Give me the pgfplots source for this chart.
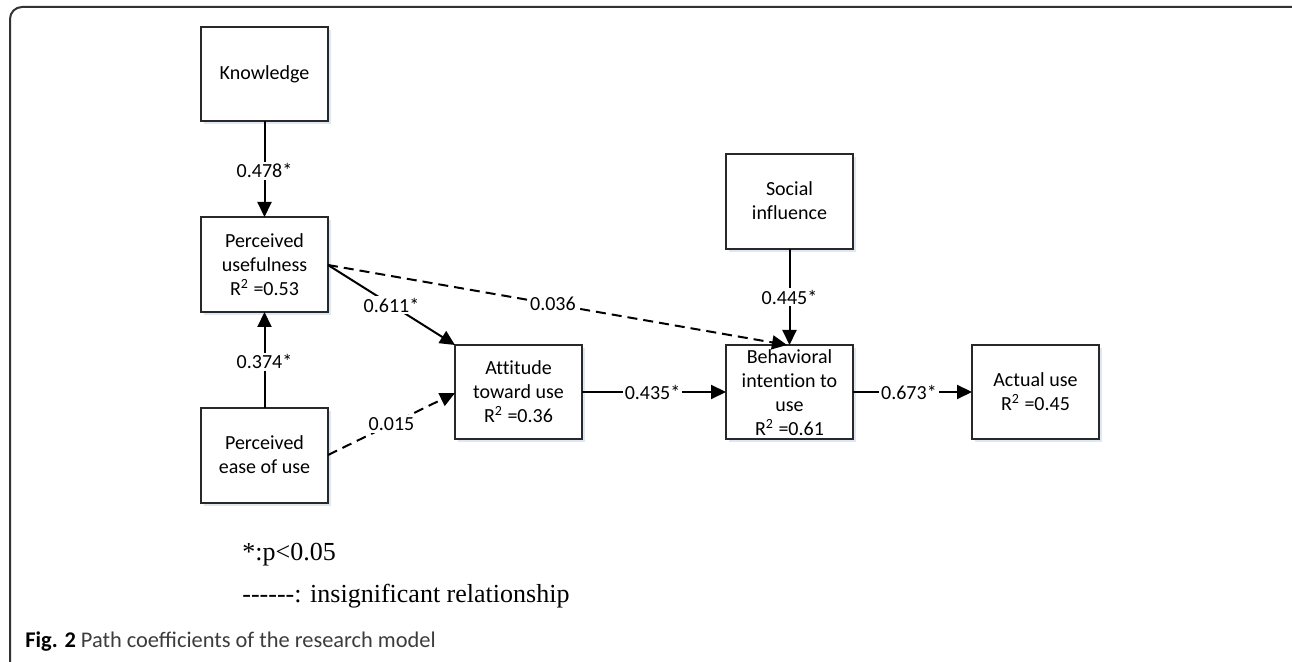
\documentclass[border=0pt]{standalone}
\usepackage{pgfplots}
\pgfplotsset{compat=1.18}
\usetikzlibrary{arrows.meta}
\usepackage{fontspec}
\setmainfont{Carlito}[Ligatures={NoCommon}]
\newfontfamily\capfont{Carlito}
\newfontfamily\serif[Ligatures=TeXOff]{Liberation Serif}
\definecolor{shadowblue}{RGB}{222,232,244}
\definecolor{capgray}{RGB}{60,60,60}
\definecolor{boxline}{RGB}{40,40,40}
\tikzset{
  lbl/.style={fill=white, inner sep=1pt, font=\fontsize{10}{12}\selectfont},
  txt/.style={align=center, font=\fontsize{10}{12}\selectfont},
  arr/.style={line width=1pt, black, -{Triangle[length=7.5pt,width=7pt]}},
  dsh/.style={arr, dash pattern=on 5pt off 3pt},
  shd/.style={fill=shadowblue, shift={(1.5pt,-1.5pt)}},
  bx/.style={fill=white, draw=boxline, line width=1pt},
}
\begin{document}
\begin{tikzpicture}
\begin{axis}[scale only axis, width=646pt, height=331pt,
  xmin=0, xmax=1292, ymin=0, ymax=662, y dir=reverse,
  axis lines=none, clip=true]
% outer frame
\draw[black!80, line width=1pt, rounded corners=6pt] (axis cs:10,7) rectangle (axis cs:1320,700);
% box shadows
\fill[shd] (axis cs:201,27) rectangle (axis cs:328,121);
\fill[shd] (axis cs:201,217) rectangle (axis cs:328,312);
\fill[shd] (axis cs:201,408) rectangle (axis cs:328,503);
\fill[shd] (axis cs:455,345) rectangle (axis cs:582,439);
\fill[shd] (axis cs:726,154) rectangle (axis cs:853,249);
\fill[shd] (axis cs:726,345) rectangle (axis cs:853,439);
\fill[shd] (axis cs:972,345) rectangle (axis cs:1099,439);
% boxes
\draw[bx] (axis cs:201,27) rectangle (axis cs:328,121);
\draw[bx] (axis cs:201,217) rectangle (axis cs:328,312);
\draw[bx] (axis cs:201,408) rectangle (axis cs:328,503);
\draw[bx] (axis cs:455,345) rectangle (axis cs:582,439);
\draw[bx] (axis cs:726,154) rectangle (axis cs:853,249);
\draw[bx] (axis cs:726,345) rectangle (axis cs:853,439);
\draw[bx] (axis cs:972,345) rectangle (axis cs:1099,439);
% box texts
\node[txt] at (axis cs:264.5,74) {Knowledge};
\node[txt] at (axis cs:264.5,265) {Perceived\\usefulness\\R\textsuperscript{2} =0.53};
\node[txt] at (axis cs:264.5,455) {Perceived\\ease of use};
\node[txt] at (axis cs:518.5,392) {Attitude\\toward use\\R\textsuperscript{2} =0.36};
\node[txt] at (axis cs:789.5,201) {Social\\influence};
\node[txt] at (axis cs:789.5,393) {Behavioral\\intention to\\use\\R\textsuperscript{2} =0.61};
\node[txt] at (axis cs:1035.5,392) {Actual use\\R\textsuperscript{2} =0.45};
% paths (coefficients)
\addplot[arr] coordinates {(264.5,121) (264.5,217)} node[lbl, pos=0.52] {0.478*};
\addplot[arr] coordinates {(264.5,408) (264.5,312)} node[lbl, pos=0.48] {0.374*};
\addplot[arr] coordinates {(328,265) (455,345)} node[lbl, pos=0.5] {0.611*};
\addplot[dsh] coordinates {(328,455) (455,393)} node[lbl, pos=0.5] {0.015};
\addplot[dsh] coordinates {(328,265) (787,345)} node[lbl, pos=0.49] {0.036};
\addplot[arr] coordinates {(789.5,249) (789.5,345)} node[lbl, pos=0.5] {0.445*};
\addplot[arr] coordinates {(582,392) (726,392)} node[lbl, pos=0.49] {0.435*};
\addplot[arr] coordinates {(853,392) (972,392)} node[lbl, pos=0.47] {0.673*};
% legend
\node[anchor=base west, inner sep=0pt, font=\serif\fontsize{13}{15}\selectfont] at (axis cs:242,561) {*:p<0.05};
\node[anchor=base west, inner sep=0pt, font=\serif\fontsize{13}{15}\selectfont] at (axis cs:242,603) {------: insignificant relationship};
% caption
\node[anchor=base west, inner sep=0pt, font=\capfont\fontsize{11.2}{13}\selectfont, text=capgray] at (axis cs:25,648) {\textbf{\color{black}Fig. 2} Path coefficients of the research model};
\end{axis}
\pgfresetboundingbox
\useasboundingbox (0,0) rectangle (646pt,331pt);
\end{tikzpicture}
\end{document}
